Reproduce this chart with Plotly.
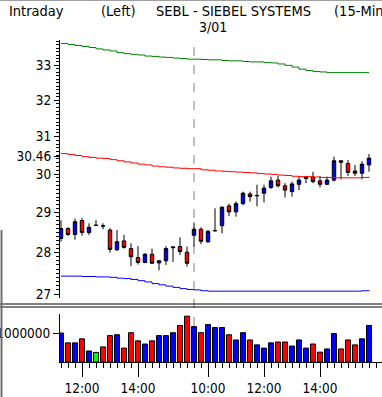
import plotly.graph_objects as go
import math

W, H = 382, 397

# ---------------- data ----------------
open_ = [28.35, 28.60, 28.45, 28.80, 28.50, 28.68, 28.67, 28.56, 28.07, 28.29,
         28.10, 27.88, 27.76, 27.96, 27.75, 27.80, 28.12, 28.15, 28.01, 28.43,
         28.58, 28.27, 28.54, 28.67, 29.17, 29.02, 29.23, 29.48, 29.43, 29.50,
         29.65, 29.84, 29.69, 29.54, 29.73, 29.88, 29.92, 29.82, 29.73, 29.84,
         30.35, 30.28, 30.08, 30.02, 30.24]
high = [28.81, 28.63, 28.85, 28.86, 28.73, 28.81, 28.73, 28.61, 28.56, 28.44,
        28.23, 28.16, 27.99, 28.10, 27.82, 28.16, 28.15, 28.38, 28.15, 28.75,
        28.63, 28.56, 29.11, 29.16, 29.23, 29.29, 29.54, 29.54, 29.72, 29.72,
        29.93, 29.95, 29.76, 29.80, 29.93, 29.95, 30.06, 29.95, 29.93, 30.46,
        30.37, 30.37, 30.24, 30.34, 30.53]
low = [28.27, 28.41, 28.32, 28.42, 28.44, 28.67, 28.58, 28.00, 28.04, 28.10,
       27.67, 27.71, 27.74, 27.72, 27.57, 27.70, 27.77, 27.94, 27.66, 28.15,
       28.21, 28.24, 28.52, 28.48, 28.91, 28.90, 29.19, 29.28, 29.16, 29.26,
       29.61, 29.65, 29.39, 29.41, 29.58, 29.76, 29.76, 29.65, 29.71, 29.80,
       29.86, 29.95, 29.95, 29.86, 30.06]
close = [28.60, 28.45, 28.77, 28.50, 28.63, 28.68, 28.66, 28.08, 28.27, 28.13,
         27.90, 27.76, 27.96, 27.74, 27.80, 28.10, 28.14, 28.03, 27.74, 28.58,
         28.28, 28.53, 28.55, 29.14, 29.02, 29.23, 29.50, 29.41, 29.44, 29.63,
         29.82, 29.69, 29.58, 29.74, 29.84, 29.92, 29.80, 29.73, 29.84, 30.35,
         30.31, 30.04, 30.02, 30.26, 30.42]
volume = [1000000, 660000, 660000, 800000, 380000, 330000, 520000, 910000, 940000, 480000,
          1010000, 730000, 620000, 730000, 910000, 910000, 1010000, 1260000, 1580000, 1220000,
          1010000, 1290000, 1190000, 1190000, 940000, 760000, 1010000, 760000, 590000, 480000,
          660000, 690000, 690000, 550000, 760000, 480000, 620000, 340000, 450000, 980000,
          450000, 760000, 590000, 800000, 1260000]
upper_band = [33.64, 33.61, 33.58, 33.55, 33.52, 33.48, 33.45, 33.42, 33.37, 33.34,
              33.32, 33.30, 33.27, 33.26, 33.24, 33.23, 33.21, 33.20, 33.18, 33.18,
              33.17, 33.16, 33.16, 33.14, 33.13, 33.13, 33.11, 33.10, 33.10, 33.08,
              33.07, 33.04, 33.00, 32.95, 32.89, 32.85, 32.82, 32.81, 32.79, 32.79,
              32.79, 32.79, 32.79, 32.79, 32.79]
mid_band = [30.54, 30.52, 30.49, 30.46, 30.44, 30.42, 30.41, 30.38, 30.35, 30.32,
            30.29, 30.26, 30.24, 30.21, 30.19, 30.18, 30.16, 30.15, 30.14, 30.14,
            30.11, 30.10, 30.08, 30.07, 30.06, 30.05, 30.04, 30.03, 30.01, 30.00,
            29.99, 29.97, 29.96, 29.94, 29.93, 29.93, 29.92, 29.91, 29.91, 29.90,
            29.90, 29.90, 29.90, 29.91, 29.93]
lower_band = [27.43, 27.43, 27.43, 27.42, 27.42, 27.41, 27.41, 27.40, 27.38, 27.37,
              27.35, 27.32, 27.29, 27.25, 27.22, 27.19, 27.16, 27.13, 27.11, 27.10,
              27.08, 27.07, 27.07, 27.07, 27.07, 27.07, 27.07, 27.07, 27.07, 27.07,
              27.07, 27.07, 27.07, 27.07, 27.07, 27.07, 27.07, 27.07, 27.07, 27.07,
              27.07, 27.07, 27.07, 27.08, 27.09]
time_tick_pos = [3, 11, 21, 29, 37]
time_tick_text = ["12:00", "14:00", "10:00", "12:00", "14:00"]
price_ticks = [27, 28, 29, 30, 30.46, 31, 32, 33]
price_tick_text = ["27", "28", "29", "30", "30.46", "31", "32", "33"]
volume_ticks = [1000000]
volume_tick_text = ["1000000"]
session_break = 19
session_label = "3/01"
title_parts = ["Intraday", "(Left)", "SEBL - SIEBEL SYSTEMS", "(15-Minute)"]

# ---------------- helpers ----------------
def px(x):
    return x / W

def py(y):
    return 1 - y / H

FONT = "DejaVu Sans Condensed, DejaVu Sans, sans-serif"
idx = list(range(len(close)))

vol_colors = []
for o, c in zip(open_, close):
    if c > o:
        vol_colors.append("#0000ff")
    elif c < o:
        vol_colors.append("#ff0000")
    else:
        vol_colors.append("#00ff00")

fig = go.Figure()

for band, col in [(upper_band, "#008000"), (mid_band, "#ff0000"), (lower_band, "#0000ff")]:
    fig.add_trace(go.Scatter(x=idx, y=band, mode="lines", line=dict(color=col, width=1, shape="hv"),
                             xaxis="x", yaxis="y", hoverinfo="skip", showlegend=False))

fig.add_trace(go.Candlestick(
    x=idx, open=open_, high=high, low=low, close=close,
    increasing=dict(fillcolor="#0000ff", line=dict(color="black", width=1)),
    decreasing=dict(fillcolor="#ff0000", line=dict(color="black", width=1)),
    whiskerwidth=0, xaxis="x", yaxis="y", showlegend=False))

fig.add_trace(go.Bar(x=idx, y=volume, marker=dict(color=vol_colors, line=dict(color="black", width=1)),
                     width=0.72, xaxis="x2", yaxis="y2", showlegend=False))

x0 = -1 / 7
xr = [x0, x0 + (W - 60) / 7]

price_top_px, price_bot_px = 40, 298
def price_at(ypx):
    return 30 * math.exp((174 - ypx) / 1140)
yr = [math.log10(price_at(price_bot_px)), math.log10(price_at(price_top_px))]

vol_top_px, vol_bot_px = 314, 362
vr = [0, (vol_bot_px - vol_top_px) / 29.0 * 1e6]

minor_price = [round(26.9 + 0.1 * k, 2) for k in range(0, 69)]

fig.update_layout(
    width=W, height=H, margin=dict(l=0, r=0, t=0, b=0, autoexpand=False),
    paper_bgcolor="white", plot_bgcolor="white",
    font=dict(family=FONT, size=13.5, color="black"),
    xaxis=dict(domain=[px(60), 1], range=xr, showticklabels=False, ticks="", showgrid=False,
               zeroline=False, showline=False, rangeslider=dict(visible=False), anchor="y",
               automargin=False),
    yaxis=dict(domain=[py(price_bot_px), py(price_top_px)], type="log", range=yr,
               tickmode="array", tickvals=price_ticks, ticktext=price_tick_text,
               ticks="outside", ticklen=5, tickcolor="black", showline=True, linecolor="black",
               linewidth=1, showgrid=False, zeroline=False, tickfont=dict(size=13.5), anchor="x",
               automargin=False,
               minor=dict(tickmode="array", tickvals=minor_price, ticks="outside", ticklen=3,
                          tickcolor="black", showgrid=False)),
    xaxis2=dict(domain=[px(60), 1], range=xr, tickmode="array", tickvals=time_tick_pos,
                ticktext=time_tick_text, ticks="outside", ticklen=14, tickcolor="black",
                showline=True, linecolor="black", linewidth=1, showgrid=False, zeroline=False,
                tickfont=dict(size=13.5), anchor="y2", automargin=False,
                minor=dict(tickmode="linear", tick0=0, dtick=1, ticks="outside", ticklen=5,
                           tickcolor="black", showgrid=False)),
    yaxis2=dict(domain=[py(vol_bot_px), py(vol_top_px)], range=vr, tickmode="array",
                tickvals=volume_ticks, ticktext=volume_tick_text, ticks="outside", ticklen=6,
                tickcolor="black", showline=True, linecolor="black", linewidth=1,
                showgrid=False, zeroline=False, tickfont=dict(size=13.5), anchor="x2",
                automargin=False),
)

shapes = [
    dict(type="line", xref="x", yref="paper", x0=session_break, x1=session_break,
         y0=py(vol_bot_px), y1=py(38), line=dict(color="#808080", width=1, dash="dash"), layer="below"),
    dict(type="line", xref="paper", yref="paper", x0=0, x1=1, y0=py(0.5), y1=py(0.5),
         line=dict(color="#a0a0a0", width=1)),
    dict(type="line", xref="paper", yref="paper", x0=0, x1=1, y0=py(304), y1=py(304),
         line=dict(color="black", width=1)),
    dict(type="line", xref="paper", yref="paper", x0=0, x1=1, y0=py(307), y1=py(307),
         line=dict(color="black", width=1)),
    dict(type="line", xref="paper", yref="paper", x0=px(1.5), x1=px(1.5), y0=py(230), y1=0,
         line=dict(color="#707070", width=2)),
]
fig.update_layout(shapes=shapes)

title_x = [7, 99, 154, 332]
annotations = []
for t, xx in zip(title_parts, title_x):
    annotations.append(dict(text=t, xref="paper", yref="paper", x=px(xx), y=py(10.5),
                            xanchor="left", yanchor="middle", showarrow=False,
                            font=dict(family=FONT, size=14.5, color="black")))
annotations.append(dict(text=session_label, xref="paper", yref="paper", x=px(197), y=py(27),
                        xanchor="left", yanchor="middle", showarrow=False,
                        font=dict(family=FONT, size=14, color="black")))
fig.update_layout(annotations=annotations)

fig.write_html("out.html", config={"displayModeBar": False},
               post_script="document.body.style.margin='0';document.body.style.padding='0';"
                           "document.documentElement.style.overflow='hidden';")
